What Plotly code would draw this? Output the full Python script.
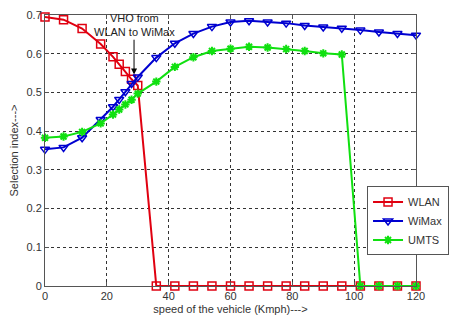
import plotly.graph_objects as go

speed = [0, 6, 12, 18, 22, 24, 26, 28, 30, 36, 42, 48, 54, 60, 66, 72, 78, 84, 90, 96, 102, 108, 114, 120]
wlan = [0.695, 0.688, 0.665, 0.625, 0.592, 0.573, 0.554, 0.534, 0.518,
        0, 0, 0, 0, 0, 0, 0, 0, 0, 0, 0, 0, 0, 0, 0]
wimax = [0.353, 0.358, 0.383, 0.430, 0.463, 0.482, 0.502, 0.523, 0.540,
         0.590, 0.627, 0.652, 0.670, 0.682, 0.685, 0.682, 0.679, 0.673, 0.669,
         0.666, 0.661, 0.656, 0.652, 0.648]
umts = [0.383, 0.386, 0.398, 0.420, 0.443, 0.456, 0.469, 0.481, 0.497,
        0.528, 0.566, 0.591, 0.607, 0.613, 0.618, 0.616, 0.612, 0.607, 0.601,
        0.598, 0, 0, 0, 0]
x_ticks = [0, 20, 40, 60, 80, 100, 120]
y_ticks = [0, 0.1, 0.2, 0.3, 0.4, 0.5, 0.6, 0.7]

FONT = "Liberation Sans, Arial"

fig = go.Figure()
fig.add_trace(go.Scatter(x=speed, y=wlan, name="WLAN", mode="lines+markers",
                         line=dict(color="#e00010", width=2),
                         marker=dict(symbol="square-open", size=8, color="#e00010",
                                     line=dict(width=1.5, color="#e00010")),
                         cliponaxis=False))
fig.add_trace(go.Scatter(x=speed, y=wimax, name="WiMax", mode="lines+markers",
                         line=dict(color="#0000d0", width=2),
                         marker=dict(symbol="triangle-down-open", size=8, color="#0000d0",
                                     line=dict(width=1.5, color="#0000d0")),
                         cliponaxis=False))
fig.add_trace(go.Scatter(x=speed, y=umts, name="UMTS", mode="lines+markers",
                         line=dict(color="#10e010", width=2),
                         marker=dict(symbol="asterisk-open", size=7, color="#10e010",
                                     line=dict(width=2, color="#10e010")),
                         cliponaxis=False))

fig.add_annotation(x=28.8, y=0.546, ax=28.8, ay=0.64, xref="x", yref="y", axref="x", ayref="y",
                   text="", showarrow=True, arrowhead=2, arrowsize=1.2, arrowwidth=1,
                   arrowcolor="black")
fig.add_annotation(x=28.8, y=0.636, xref="x", yref="y", text="VHO from<br>WLAN to WiMax",
                   showarrow=False, yanchor="bottom",
                   font=dict(family=FONT, size=11, color="#222"))

axis_common = dict(showline=True, linecolor="#555", linewidth=1, mirror="ticks",
                   ticks="inside", ticklen=4, tickcolor="#555",
                   showgrid=True, gridcolor="#333", griddash="dot", gridwidth=1,
                   zeroline=False, automargin=False, ticklabeloverflow="allow",
                   tickfont=dict(family=FONT, size=11, color="#333"))

fig.update_xaxes(range=[0, 120], tickvals=x_ticks,
                 title=dict(text="speed of the vehicle (Kmph)--->", standoff=4,
                            font=dict(family=FONT, size=11, color="#333")),
                 **axis_common)
fig.update_yaxes(range=[0, 0.7], tickvals=y_ticks,
                 title=dict(text="Selection index--->", standoff=6,
                            font=dict(family=FONT, size=11, color="#333")),
                 **axis_common)

fig.update_layout(width=449, height=310, margin=dict(l=37, r=41, t=7, b=32),
                  plot_bgcolor="white", paper_bgcolor="white",
                  legend=dict(x=0.868, y=0.24, xanchor="left", yanchor="middle",
                              bgcolor="white", bordercolor="#555", borderwidth=1,
                              font=dict(family=FONT, size=11, color="#333"),
                              itemwidth=30, tracegroupgap=0),
                  showlegend=True)

fig.write_html("out.html")
